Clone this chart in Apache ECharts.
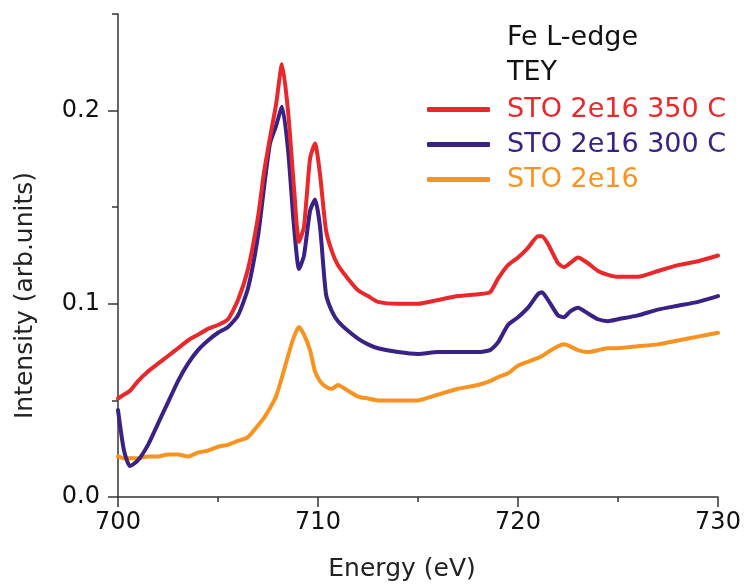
<!DOCTYPE html>
<html>
<head>
<meta charset="utf-8">
<script src="https://cdn.jsdelivr.net/npm/echarts@6/dist/echarts.min.js"></script>
<style>
  html, body { margin: 0; padding: 0; background: #fff; }
  #main { width: 749px; height: 588px; }
</style>
</head>
<body>
<div id="main"></div>
<script>
// photon energy (eV), shared by all three spectra
var energy = [700, 700.3, 700.6, 701, 701.5, 702, 702.5, 703, 703.5, 704, 704.5, 705, 705.5, 706, 706.5,
  707, 707.3, 707.6, 707.9, 708.2, 708.5, 708.8, 709.05, 709.3, 709.6, 709.85, 710.1, 710.4, 710.7, 711,
  711.5, 712, 712.5, 713, 714, 715, 716, 717, 718, 718.6, 719, 719.5, 720, 720.5, 721, 721.2, 721.5, 722,
  722.3, 722.6, 723, 723.5, 724, 724.5, 725, 726, 727, 728, 729, 730];

// STO 2e16 350 C
var sto350 = [0.051, 0.053, 0.055, 0.060, 0.065, 0.069, 0.073, 0.077, 0.081, 0.084, 0.087, 0.089, 0.092, 0.102, 0.118,
  0.145, 0.168, 0.186, 0.203, 0.224, 0.200, 0.160, 0.132, 0.140, 0.175, 0.183, 0.167, 0.138, 0.127, 0.120,
  0.113, 0.107, 0.104, 0.101, 0.100, 0.100, 0.102, 0.104, 0.105, 0.106, 0.113, 0.120, 0.124, 0.129, 0.135, 0.135, 0.131, 0.121,
  0.119, 0.121, 0.124, 0.121, 0.117, 0.115, 0.114, 0.114, 0.117, 0.120, 0.122, 0.125];

// STO 2e16 300 C
var sto300 = [0.045, 0.024, 0.016, 0.019, 0.027, 0.038, 0.049, 0.060, 0.069, 0.076, 0.081, 0.085, 0.088, 0.094, 0.108,
  0.135, 0.160, 0.183, 0.192, 0.202, 0.180, 0.140, 0.118, 0.125, 0.148, 0.154, 0.140, 0.105, 0.096, 0.091,
  0.086, 0.082, 0.079, 0.077, 0.075, 0.074, 0.075, 0.075, 0.075, 0.076, 0.080, 0.089, 0.093, 0.098, 0.105, 0.106, 0.102, 0.094,
  0.093, 0.096, 0.098, 0.095, 0.092, 0.091, 0.092, 0.094, 0.097, 0.099, 0.101, 0.104];

// STO 2e16
var sto = [0.021, 0.020, 0.020, 0.020, 0.021, 0.021, 0.022, 0.022, 0.021, 0.023, 0.024, 0.026, 0.027, 0.029, 0.031,
  0.037, 0.041, 0.046, 0.052, 0.062, 0.073, 0.083, 0.088, 0.084, 0.076, 0.065, 0.060, 0.057, 0.056, 0.058,
  0.055, 0.052, 0.051, 0.050, 0.050, 0.050, 0.053, 0.056, 0.058, 0.060, 0.062, 0.064, 0.068, 0.070, 0.072, 0.073, 0.075, 0.078,
  0.079, 0.078, 0.076, 0.075, 0.076, 0.077, 0.077, 0.078, 0.079, 0.081, 0.083, 0.085];

var names = ['STO 2e16 350 C', 'STO 2e16 300 C', 'STO 2e16'];
var colors = ['#e8282b', '#3a2186', '#f7931e'];
var yTicks = [0, 0.1, 0.2];
var yMinorTicks = [0.05, 0.15, 0.25];

var font = 'DejaVu Sans';
var axisColor = '#333';

function pairs(vals) {
  return energy.map(function (e, i) { return [e, vals[i]]; });
}

var chart = echarts.init(document.getElementById('main'));

// drawn orange first so that red ends up on top
var seriesVals = [sto350, sto300, sto];
var series = [];
[2, 1, 0].forEach(function (k) {
  series.push({
    name: names[k],
    type: 'line',
    symbol: 'none',
    showSymbol: false,
    smooth: 0.2,
    lineStyle: { color: colors[k], width: 4, cap: 'round', join: 'round' },
    itemStyle: { color: colors[k] },
    data: pairs(seriesVals[k])
  });
});

chart.setOption({
  animation: false,
  backgroundColor: '#fff',
  title: {
    text: 'Fe L-edge\nTEY',
    left: 507,
    top: 20,
    padding: 0,
    textStyle: { fontFamily: font, fontSize: 27, fontWeight: 'normal', color: '#111', lineHeight: 35 }
  },
  legend: {
    orient: 'vertical',
    left: 427,
    top: 96,
    padding: 0,
    itemGap: 8,
    itemWidth: 63,
    itemHeight: 5,
    icon: 'roundRect',
    data: names.map(function (n, i) {
      return { name: n, textStyle: { color: colors[i] } };
    }),
    textStyle: { fontFamily: font, fontSize: 27, padding: [0, 0, 0, 12] }
  },
  grid: { left: 118, right: 31, top: 14, bottom: 91 },
  xAxis: {
    type: 'value',
    min: 700,
    max: 730,
    interval: 10,
    name: 'Energy (eV)',
    nameLocation: 'middle',
    nameGap: 60,
    nameTextStyle: { fontFamily: font, fontSize: 25, color: '#222', padding: [0, 32, 0, 0] },
    axisLine: { lineStyle: { color: axisColor, width: 1.5 } },
    axisTick: { length: 10, lineStyle: { color: axisColor, width: 1.5 } },
    minorTick: { show: true, splitNumber: 2, length: 5, lineStyle: { color: axisColor, width: 1.5 } },
    axisLabel: { margin: 14, fontFamily: font, fontSize: 24, color: '#111' },
    splitLine: { show: false }
  },
  yAxis: [{
    type: 'value',
    position: 'left',
    min: 0,
    max: 0.25,
    interval: 0.05,
    name: 'Intensity (arb.units)',
    nameLocation: 'middle',
    nameGap: 80,
    nameTextStyle: { fontFamily: font, fontSize: 25, color: '#222', padding: [0, 80, 0, 0] },
    axisLine: { show: true, lineStyle: { color: axisColor, width: 1.5 } },
    axisTick: { customValues: yTicks, length: 10, lineStyle: { color: axisColor, width: 1.5 } },
    axisLabel: {
      customValues: yTicks,
      margin: 18,
      fontFamily: font,
      fontSize: 24,
      color: '#111',
      formatter: function (v) { return v.toFixed(1); }
    },
    splitLine: { show: false }
  }, {
    type: 'value',
    position: 'left',
    min: 0,
    max: 0.25,
    interval: 0.05,
    axisLine: { show: false },
    axisTick: { customValues: yMinorTicks, length: 6, lineStyle: { color: axisColor, width: 1.5 } },
    axisLabel: { show: false },
    splitLine: { show: false }
  }],
  series: series
});
</script>
</body>
</html>
